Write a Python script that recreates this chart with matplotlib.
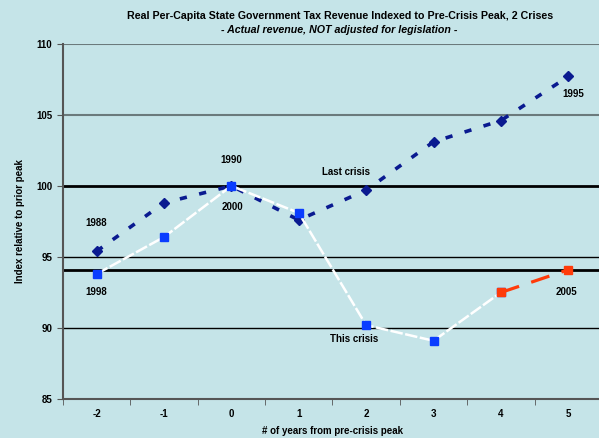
import numpy as np
import matplotlib
matplotlib.use("Agg")
import matplotlib.pyplot as plt

# data
years = [-2, -1, 0, 1, 2, 3, 4, 5]
last_crisis = [95.4, 98.8, 100.0, 97.6, 99.7, 103.1, 104.6, 107.7]
this_crisis_x = [-2, -1, 0, 1, 2, 3, 4]
this_crisis = [93.8, 96.4, 100.0, 98.1, 90.2, 89.1, 92.5]
projection_x = [4, 5]
projection = [92.5, 94.1]

labels = ["1988", "1998", "1990", "2000", "Last crisis", "This crisis", "2005", "1995"]
label_x = [-2.0, -2.0, 0.0, 0.02, 1.7, 1.82, 4.97, 5.07]
label_y = [97.4, 92.5, 101.8, 98.5, 101.0, 89.2, 92.5, 106.5]

bg = "#c5e4e8"
plt.rcParams["font.family"] = ["Liberation Sans", "DejaVu Sans"]
plt.rcParams["font.weight"] = "bold"
plt.rcParams["axes.unicode_minus"] = False

fig = plt.figure(figsize=(5.99, 4.38), dpi=100, facecolor=bg)
ax = fig.add_axes([0.105, 0.089, 0.9, 0.811], facecolor=bg)

ax.set_xlim(-2.5, 5.5)
ax.set_ylim(85, 110)

# grid / reference lines
for y, c, lw in [(110, "#6b7a7c", 1.5), (105, "#6b7a7c", 1.5), (95, "black", 1.0), (90, "black", 1.0)]:
    ax.axhline(y, color=c, lw=lw, zorder=1)
ax.axhline(100, color="black", lw=2.0, zorder=1)
ax.axhline(94.1, color="black", lw=2.0, zorder=1)

ax.plot(years, last_crisis, color="#0a1a90", lw=2.6, ls=(0, (2.0, 3.5)),
        marker="D", ms=5, zorder=3)
ax.plot(this_crisis_x, this_crisis, color="white", lw=1.8, ls=(0, (5, 1)),
        marker="s", ms=6, mfc="#0a3cff", mec="#0a3cff", zorder=4)
ax.plot(projection_x, projection, color="#ff3b0a", lw=2.3, ls=(0, (6, 4)),
        marker="s", ms=6, mfc="#ff3b0a", mec="#ff3b0a", zorder=5)

for t, x, y in zip(labels, label_x, label_y):
    ax.text(x, y, t, fontsize=7, fontweight="bold", ha="center", va="center", zorder=6)

ax.set_yticks([85, 90, 95, 100, 105, 110])
ax.set_xticks(years)
ax.set_xticks(np.arange(-2.5, 5.6, 1.0), minor=True)
ax.tick_params(axis="x", which="major", length=0, labelsize=7, pad=7)
ax.tick_params(axis="x", which="minor", length=4, direction="out", color="#555555")
ax.tick_params(axis="y", length=4, direction="out", labelsize=7, color="#555555")
for lab in ax.get_xticklabels() + ax.get_yticklabels():
    lab.set_fontweight("bold")

for s in ["top", "right"]:
    ax.spines[s].set_visible(False)
ax.spines["left"].set_color("#555555")
ax.spines["left"].set_linewidth(1.5)
ax.spines["bottom"].set_color("#555555")
ax.spines["bottom"].set_linewidth(1.5)

ax.set_xlabel("# of years from pre-crisis peak", fontsize=7, fontweight="bold", labelpad=5)
ax.set_ylabel("Index relative to prior peak", fontsize=7, fontweight="bold", labelpad=8)

fig.text(0.567, 0.963, "Real Per-Capita State Government Tax Revenue Indexed to Pre-Crisis Peak, 2 Crises",
         fontsize=7.7, fontweight="bold", ha="center", va="center")
fig.text(0.567, 0.931, "- Actual revenue, NOT adjusted for legislation -",
         fontsize=7.7, fontweight="bold", style="italic", ha="center", va="center")

fig.savefig("out.png", dpi=100, facecolor=bg)
